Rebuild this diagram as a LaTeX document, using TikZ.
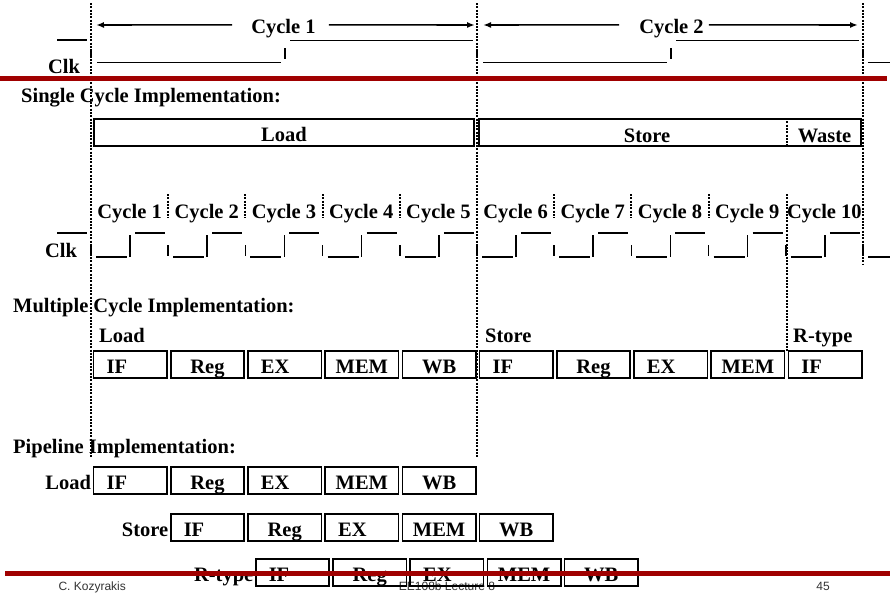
\documentclass[tikz,border=0pt]{standalone}
\usepackage{fontspec}
\setmainfont{Liberation Serif}
\newfontfamily\footfont{Liberation Sans}
\usetikzlibrary{arrows.meta,positioning}
\definecolor{slidered}{HTML}{A00000}
\definecolor{footgray}{HTML}{333333}
\newcommand{\bigbf}{\fontsize{20.5}{24}\selectfont\bfseries}
\tikzset{
  lbl/.style={font=\bigbf, inner sep=0pt},
  baselbl/.style={lbl, anchor=base},
  headlbl/.style={lbl, anchor=base west},
  rowlbl/.style={lbl, text height=17pt, text depth=0pt},
  stagebox/.style={draw, line width=1.6pt, minimum width=73.5pt, minimum height=27.5pt,
    inner sep=0pt, font=\bigbf, text height=17pt, text depth=0pt},
  leftbox/.style={stagebox, inner xsep=13pt, text width=47.5pt, align=left},
  wave/.style={line width=1.6pt},
  divline/.style={line width=2pt, dash pattern=on 2pt off 1.3pt},
  cycarr/.style={-{Latex[length=8pt,width=6pt]}, line width=1.6pt},
  rule/.style={line width=5pt, draw=slidered},
  foot/.style={font=\footfont\fontsize{12}{14}\selectfont, text=footgray, anchor=base}
}

\begin{document}
\begin{tikzpicture}[x=1pt, y=-1pt]
  \fill[white] (0,0) rectangle (890,592);
  \useasboundingbox (0,0) rectangle (890,592);

  % footer
  \node[foot, anchor=base west] (author) at (55,590) {C. Kozyrakis};
  \node[foot] (course) at (447,590) {EE108b Lecture 8};
  \node[foot] (page) at (823,590) {45};

  % dotted cycle boundaries
  \draw[divline] (91,3) -- (91,458);
  \draw[divline] (477,3) -- (477,458);
  \draw[divline] (863,3) -- (863,265);
  \draw[divline] (787,118) -- (787,147);
  \draw[divline] (787,194) -- (787,352);
  \foreach \k in {1,2,3,4,6,7,8}
    \draw[divline] (91+77.2*\k,194) -- (91+77.2*\k,218);

  % long clock
  \node[baselbl] (cyctop1) at (283.5,33) {Cycle 1};
  \node[baselbl] (cyctop2) at (671.5,33) {Cycle 2};
  \coordinate (t1l) at (96,25);
  \coordinate (t1r) at (475,25);
  \coordinate (t2l) at (483,25);
  \coordinate (t2r) at (858,25);
  \draw[cycarr] ([xshift=-19pt,yshift=3.3pt]cyctop1.west) -- (t1l);
  \draw[cycarr] ([xshift=13pt,yshift=3.3pt]cyctop1.east) -- (t1r);
  \draw[cycarr] ([xshift=-20pt,yshift=3.3pt]cyctop2.west) -- (t2l);
  \draw[cycarr] ([xshift=5pt,yshift=3.3pt]cyctop2.east) -- (t2r);
  \node[baselbl] (clktop) at (64,73.5) {Clk};
  \draw[wave] (57,40) -- (87,40);
  \foreach \x in {91,477} {
    \draw[wave] (\x,50) -- (\x,58);
    \draw[wave] (\x+6,62.5) -- (\x+190,62.5);
    \draw[wave] (\x+194,48) -- (\x+194,59);
    \draw[wave] (\x+199,40.5) -- (\x+382,40.5);
  }
  \draw[wave] (863,50) -- (863,58);
  \draw[wave] (868,62.5) -- (890,62.5);

  % single cycle
  \node[headlbl] (schead) at (21,102) {Single Cycle Implementation:};
  \node[stagebox, minimum width=380.4pt, text height=18pt] (scload) at (284,132.5) {Load};
  \node[stagebox, minimum width=382.4pt] (scstore) at (670,132.5) {};
  \node[baselbl] (scstlbl) at (647,142) {Store};
  \node[baselbl] (scwaste) at (824.5,142) {Waste};

  % short clock
  \foreach \k in {1,...,10}
    \node[baselbl] (cyc\k) at (91+77.2*\k-38.6,218.5) {Cycle \k};
  \node[baselbl] (clkmc) at (61,257) {Clk};
  \draw[wave] (57,233) -- (87,233);
  \foreach \k [evaluate=\k as \x using 91+77.2*\k] in {0,...,9} {
    \draw[wave] (\x,245) -- (\x,256);
    \draw[wave] (\x+5,257) -- (\x+36,257);
    \draw[wave] (\x+39,235) -- (\x+39,257);
    \draw[wave] (\x+44,233) -- (\x+74,233);
  }
  \draw[wave] (863,245) -- (863,256);
  \draw[wave] (868,257) -- (890,257);

  % multiple cycle
  \node[headlbl] (mchead) at (13,312) {Multiple Cycle Implementation:};
  \node[headlbl] (mcload) at (99,342) {Load};
  \node[headlbl] (mcstore) at (485,342) {Store};
  \node[headlbl] (mcrtype) at (793,342) {R-type};
  \foreach \st/\txt [count=\k from 0] in {leftbox/IF,stagebox/Reg,leftbox/EX,stagebox/MEM,stagebox/WB,
      leftbox/IF,stagebox/Reg,leftbox/EX,stagebox/MEM,leftbox/IF}
    \node[\st] (mc\k) at (130.3+77.2*\k,364.5) {\txt};

  % pipeline
  \node[headlbl] (plhead) at (13,453) {Pipeline Implementation:};
  \foreach \st/\txt [count=\j from 0] in {leftbox/IF,stagebox/Reg,leftbox/EX,stagebox/MEM,stagebox/WB} {
    \node[\st] (pl\j) at (130.3+77.2*\j,480.5) {\txt};
    \node[\st] (ps\j) at (207.5+77.2*\j,527.5) {\txt};
    \node[\st] (pr\j) at (292.5+77.2*\j,572.5) {\txt};
  }
  \node[rowlbl, left=1.5pt of pl0] (plload) {Load};
  \node[rowlbl, left=1.5pt of ps0] (plstore) {Store};
  \node[rowlbl, left=1.5pt of pr0] (plrtype) {R-type};

  % slide rules
  \draw[rule] (0,78.5) -- (887,78.5);
  \draw[rule] (5,573.5) -- (890,573.5);
\end{tikzpicture}
\end{document}
